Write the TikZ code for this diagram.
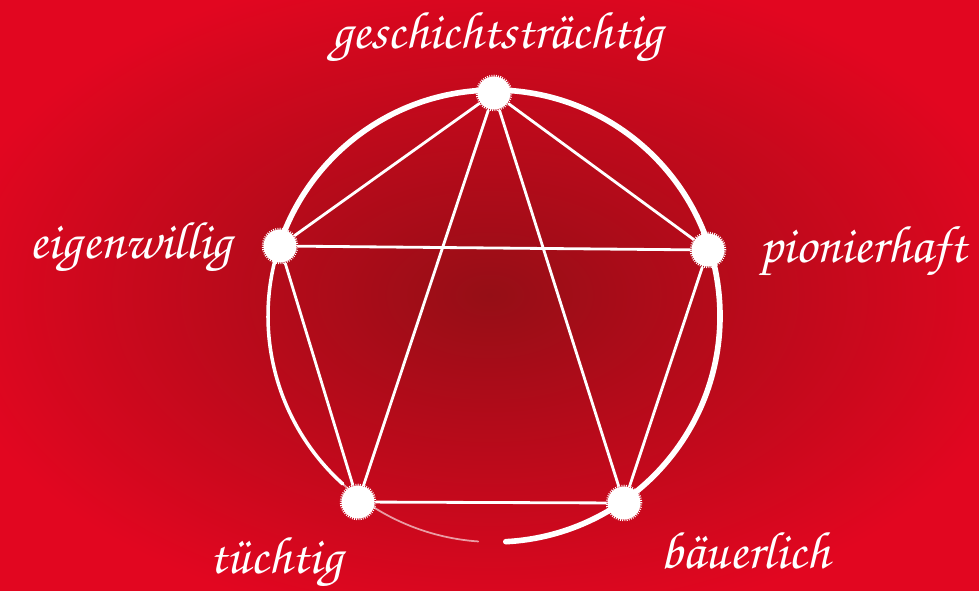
\documentclass[tikz,border=0pt]{standalone}
\usepackage[T1]{fontenc}
\usetikzlibrary{calc}
\definecolor{bgout}{RGB}{226,6,32}
\definecolor{bgin}{RGB}{150,14,22}
\newcommand\scriptlab{\fontencoding{T1}\fontfamily{pzc}\fontseries{mb}\fontshape{it}\fontsize{15}{15}\selectfont}
\begin{document}
\begin{tikzpicture}[x=0.01cm,y=0.01cm,
  dot/.style={circle,fill=white,draw=white,line width=1pt,dash pattern=on 0.25pt off 0.35pt,minimum size=0.33cm,inner sep=0pt},
  edge/.style={draw=white,line width=0.8pt,line cap=round},
  lab/.style={text=white,anchor=base,inner sep=0pt,font=\scriptlab}]
\useasboundingbox (0,0) rectangle (979,590);
\shade[inner color=bgin,outer color=bgout] (-60,-40) rectangle (1039,630);
\coordinate (C) at (494,274);
% ring
\draw[white,line width=1.6pt,line cap=round] ($(C)+(-87:226)$) arc[start angle=-87,end angle=165,radius=226];
\draw[white,line width=1.0pt,line cap=round] ($(C)+(160:226)$) arc[start angle=160,end angle=228,radius=226];
\draw[white,opacity=0.6,line width=0.5pt,line cap=round] ($(C)+(226:226)$) arc[start angle=226,end angle=266,radius=226];
% dots
\node[dot] (T) at (494,497) {};
\node[dot] (E) at (280,344) {};
\node[dot] (P) at (708,340) {};
\node[dot] (Tu) at (358,88) {};
\node[dot] (B) at (624,87) {};
% connectors
\draw[edge] (T) -- (E);
\draw[edge] (T) -- (P);
\draw[edge] (E) -- (P);
\draw[edge] (E) -- (Tu);
\draw[edge] (P) -- (B);
\draw[edge] (Tu) -- (B);
\draw[edge] (T) -- (Tu);
\draw[edge] (T) -- (B);
% labels
\node[lab] (lT) at (497,542) {geschichtstr\"achtig};
\node[lab] (lE) at (131,332) {eigenwillig};
\node[lab] (lP) at (863,328) {pionierhaft};
\node[lab] (lTu) at (276,17) {t\"uchtig};
\node[lab] (lB) at (745,22) {b\"auerlich};
\end{tikzpicture}
\end{document}
